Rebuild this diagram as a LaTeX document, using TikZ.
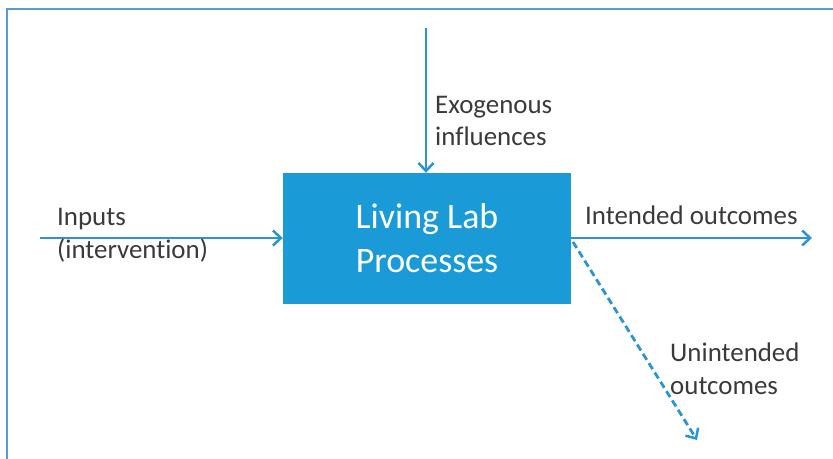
\documentclass[tikz,border=0pt]{standalone}
\usepackage{fontspec}
\setmainfont{Carlito}[Ligatures=NoCommon]
\usetikzlibrary{arrows.meta}
\definecolor{boxblue}{HTML}{1A9AD6}
\definecolor{arrowblue}{HTML}{2B94D1}
\definecolor{framecol}{HTML}{5B9BD5}
\definecolor{labelgray}{HTML}{3A3A3A}
\tikzset{
  flow/.style={draw=arrowblue, line width=2.8bp, -{Straight Barb[length=8bp,width=15bp,line width=2.5bp]}},
  lbl/.style={text=labelgray, font=\fontsize{27}{33}\selectfont, align=left, inner sep=0pt, anchor=west},
  procbox/.style={fill=boxblue, draw=none, minimum width=288bp, minimum height=131bp, text=white, font=\fontsize{36}{44}\selectfont, align=center, inner sep=0pt}
}
\begin{document}
\begin{tikzpicture}[x=1bp,y=-1bp]
\useasboundingbox (0,0) rectangle (833,459);
\draw[framecol, line width=2.5bp] (7,459) -- (7,9) -- (833,9);
\node[procbox] (box) at (427,238.5) {Living Lab\\Processes};
\coordinate (exo) at (426,28);
\coordinate (inp) at (40,238);
\coordinate (outp) at (812,238);
\coordinate (unint) at (697,440);
\coordinate (dstart) at (573,242);
\draw[flow] (exo) -- (exo |- box.north);
\draw[flow] (inp) -- (inp -| box.west);
\draw[flow] (outp -| box.east) -- (outp);
\draw[flow, dash pattern=on 7bp off 4bp] (dstart) -- (unint);
\node[lbl] (exolbl) at (435,121) {Exogenous\\influences};
\node[lbl] (inplbl) at (57,235) {Inputs\\(intervention)};
\node[lbl, anchor=base west] (intlbl) at (585,225) {Intended outcomes};
\node[lbl] (unlbl) at (670,369) {Unintended\\outcomes};
\end{tikzpicture}
\end{document}
